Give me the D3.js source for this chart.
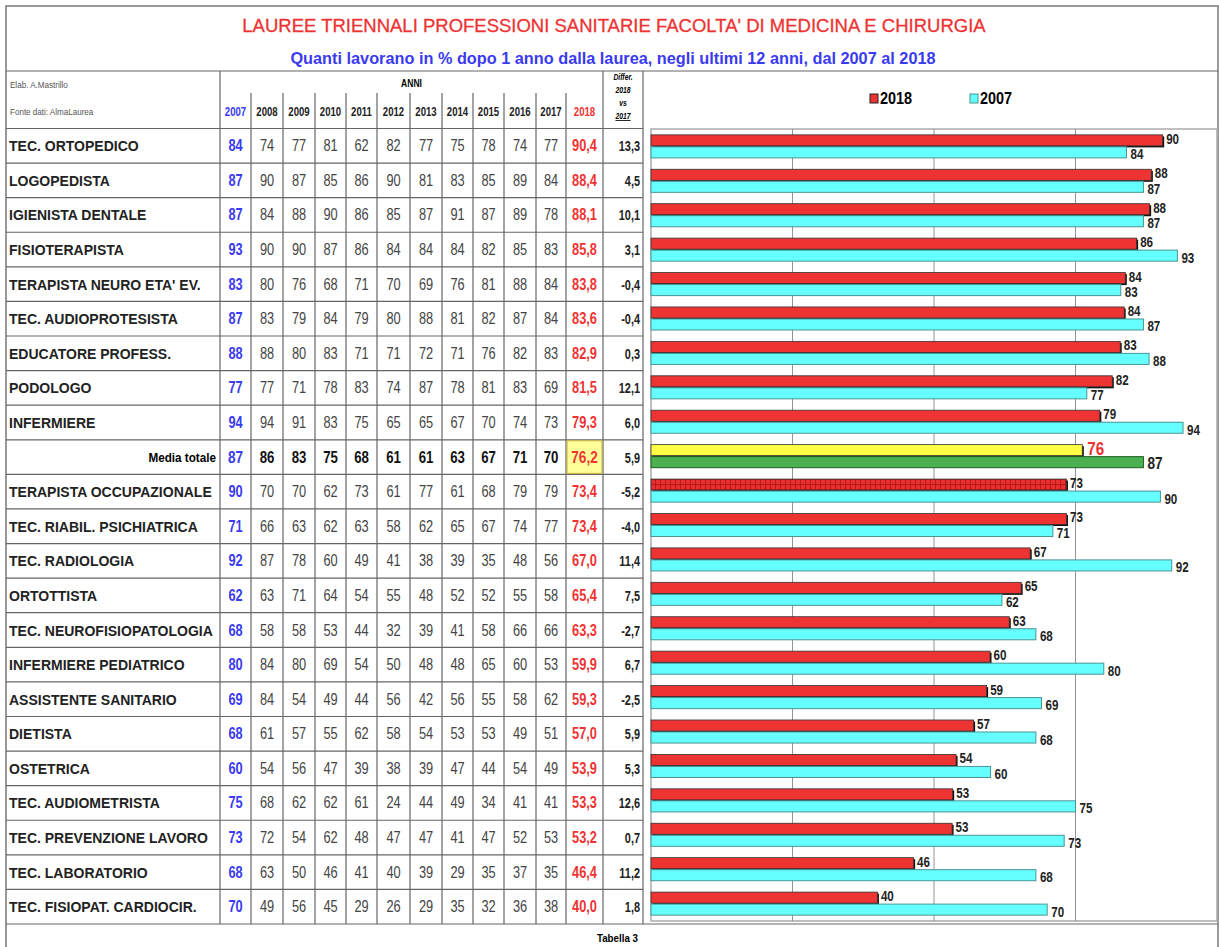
<!DOCTYPE html>
<html>
<head>
<meta charset="utf-8">
<script src="https://cdn.jsdelivr.net/npm/d3@7"></script>
<style>
  body { margin: 0; background: #fff; }
  svg { display: block; }
</style>
</head>
<body>
<svg id="chart" width="1219" height="947"></svg>
<script>
// dati: occupati a 1 anno dalla laurea (%)
const professioni = ["TEC. ORTOPEDICO", "LOGOPEDISTA", "IGIENISTA DENTALE", "FISIOTERAPISTA",
  "TERAPISTA NEURO ETA' EV.", "TEC. AUDIOPROTESISTA", "EDUCATORE PROFESS.", "PODOLOGO", "INFERMIERE",
  "Media totale", "TERAPISTA OCCUPAZIONALE", "TEC. RIABIL. PSICHIATRICA", "TEC. RADIOLOGIA", "ORTOTTISTA",
  "TEC. NEUROFISIOPATOLOGIA", "INFERMIERE PEDIATRICO", "ASSISTENTE SANITARIO", "DIETISTA", "OSTETRICA",
  "TEC. AUDIOMETRISTA", "TEC. PREVENZIONE LAVORO", "TEC. LABORATORIO", "TEC. FISIOPAT. CARDIOCIR."];

const anni = [2007, 2008, 2009, 2010, 2011, 2012, 2013, 2014, 2015, 2016, 2017, 2018];

const v2007 = [84, 87, 87, 93, 83, 87, 88, 77, 94, 87, 90, 71, 92, 62, 68, 80, 69, 68, 60, 75, 73, 68, 70];
const v2008 = [74, 90, 84, 90, 80, 83, 88, 77, 94, 86, 70, 66, 87, 63, 58, 84, 84, 61, 54, 68, 72, 63, 49];
const v2009 = [77, 87, 88, 90, 76, 79, 80, 71, 91, 83, 70, 63, 78, 71, 58, 80, 54, 57, 56, 62, 54, 50, 56];
const v2010 = [81, 85, 90, 87, 68, 84, 83, 78, 83, 75, 62, 62, 60, 64, 53, 69, 49, 55, 47, 62, 62, 46, 45];
const v2011 = [62, 86, 86, 86, 71, 79, 71, 83, 75, 68, 73, 63, 49, 54, 44, 54, 44, 62, 39, 61, 48, 41, 29];
const v2012 = [82, 90, 85, 84, 70, 80, 71, 74, 65, 61, 61, 58, 41, 55, 32, 50, 56, 58, 38, 24, 47, 40, 26];
const v2013 = [77, 81, 87, 84, 69, 88, 72, 87, 65, 61, 77, 62, 38, 48, 39, 48, 42, 54, 39, 44, 47, 39, 29];
const v2014 = [75, 83, 91, 84, 76, 81, 71, 78, 67, 63, 61, 65, 39, 52, 41, 48, 56, 53, 47, 49, 41, 29, 35];
const v2015 = [78, 85, 87, 82, 81, 82, 76, 81, 70, 67, 68, 67, 35, 52, 58, 65, 55, 53, 44, 34, 47, 35, 32];
const v2016 = [74, 89, 89, 85, 88, 87, 82, 83, 74, 71, 79, 74, 48, 55, 66, 60, 58, 49, 54, 41, 52, 37, 36];
const v2017 = [77, 84, 78, 83, 84, 84, 83, 69, 73, 70, 79, 77, 56, 58, 66, 53, 62, 51, 49, 41, 53, 35, 38];
const v2018 = [90.4, 88.4, 88.1, 85.8, 83.8, 83.6, 82.9, 81.5, 79.3, 76.2, 73.4, 73.4, 67.0, 65.4, 63.3, 59.9, 59.3, 57.0, 53.9, 53.3, 53.2, 46.4, 40.0];
const differenza = [13.3, 4.5, 10.1, 3.1, -0.4, -0.4, 0.3, 12.1, 6.0, 5.9, -5.2, -4.0, 11.4, 7.5, -2.7, 6.7, -2.5, 5.9, 5.3, 12.6, 0.7, 11.2, 1.8];

const serieIntermedie = [v2008, v2009, v2010, v2011, v2012, v2013, v2014, v2015, v2016, v2017];
const assiTick = [0, 25, 50, 75, 100];

const MEDIA = "Media totale";
const sans = "'Liberation Sans', Arial, sans-serif";
const fmt = v => d3.format(".1f")(v).replace(".", ",").replace("\u2212", "-");

const svg = d3.select("#chart");

// testo "stretto" (tipo Arial Narrow) ottenuto con scala orizzontale
function narrow(parent, x, y, size, k = 0.8) {
  return parent.append("text")
    .attr("transform", `translate(${x},${y}) scale(${k},1)`)
    .attr("font-family", sans)
    .attr("font-size", size + "px");
}

const defs = svg.append("defs");
const pat = defs.append("pattern")
  .attr("id", "quadretti")
  .attr("width", 5).attr("height", 5)
  .attr("patternUnits", "userSpaceOnUse");
pat.append("rect").attr("width", 5).attr("height", 5).attr("fill", "#e83030");
pat.append("path").attr("d", "M0,0.5H5M0.5,0V5").attr("stroke", "#b81818").attr("stroke-width", 1);

// cornice esterna
svg.append("rect")
  .attr("x", 6).attr("y", 6).attr("width", 1212).attr("height", 960)
  .attr("fill", "none").attr("stroke", "#777").attr("stroke-width", 1.5);

// titoli
svg.append("text")
  .attr("x", 614).attr("y", 32)
  .attr("text-anchor", "middle")
  .attr("font-family", sans).attr("font-size", "18.5px")
  .attr("stroke", "#ee3333").attr("stroke-width", 0.3)
  .attr("fill", "#ee3333")
  .text("LAUREE TRIENNALI PROFESSIONI SANITARIE FACOLTA' DI MEDICINA E CHIRURGIA");

svg.append("text")
  .attr("x", 613).attr("y", 64)
  .attr("text-anchor", "middle")
  .attr("font-family", sans).attr("font-size", "16.3px").attr("font-weight", "bold")
  .attr("fill", "#3a3af0")
  .text("Quanti lavorano in %  dopo 1 anno dalla laurea, negli ultimi 12 anni, dal 2007 al 2018");

// ---------- tabella ----------
const colEdges = [220, 251, 283, 315, 346, 377, 410, 442, 473, 504, 536, 566, 603, 643];
const headTop = 71, headMid = 93, tabTop = 128.5, tabBottom = 924;
const rowY = d3.scaleBand().domain(professioni).range([tabTop, tabBottom]);
const colCenter = i => (colEdges[i] + colEdges[i + 1]) / 2;

const grid = svg.append("g").attr("stroke", "#666").attr("stroke-width", 1.2);
grid.append("line").attr("x1", 6).attr("x2", 1218).attr("y1", headTop).attr("y2", headTop);
grid.append("line").attr("x1", 6).attr("x2", 643).attr("y1", tabTop).attr("y2", tabTop);
grid.append("line").attr("x1", 6).attr("x2", 1218).attr("y1", tabBottom).attr("y2", tabBottom);

professioni.forEach((p, i) => {
  if (i > 0) {
    grid.append("line")
      .attr("x1", 6).attr("x2", 643)
      .attr("y1", rowY(p)).attr("y2", rowY(p));
  }
});
colEdges.forEach((x, i) => {
  const top = (i === 0 || i >= colEdges.length - 2) ? headTop : headMid;
  grid.append("line").attr("x1", x).attr("x2", x).attr("y1", top).attr("y2", tabBottom);
});

// intestazione
narrow(svg, 10, 88, 9.5, 0.85).attr("fill", "#555").text("Elab. A.Mastrillo");
narrow(svg, 10, 115, 9.5, 0.85).attr("fill", "#555").text("Fonte dati: AlmaLaurea");
narrow(svg, (colEdges[0] + colEdges[12]) / 2, 87, 10, 0.85)
  .attr("text-anchor", "middle").attr("font-weight", "bold")
  .text("ANNI");

anni.forEach((a, i) => {
  narrow(svg, colCenter(i), 116, 12, 0.8)
    .attr("text-anchor", "middle").attr("font-weight", "bold")
    .attr("fill", a === 2007 ? "#3a3af0" : a === 2018 ? "#ee3333" : "#222")
    .text(a);
});
["Differ.", "2018", "vs", "2017"].forEach((t, i) => {
  narrow(svg, colCenter(12), 80 + i * 13, 8.5, 0.8)
    .attr("text-anchor", "middle")
    .attr("font-weight", "bold").attr("font-style", "italic")
    .attr("text-decoration", i === 3 ? "underline" : null)
    .text(t);
});

// righe
professioni.forEach((p, i) => {
  const isMedia = p === MEDIA;
  const cy = rowY(p) + rowY.bandwidth() / 2 + 5.5;
  const row = svg.append("g");

  if (isMedia) {
    row.append("rect")
      .attr("x", colEdges[11] + 1).attr("y", rowY(p) + 1)
      .attr("width", colEdges[12] - colEdges[11] - 2).attr("height", rowY.bandwidth() - 2)
      .attr("fill", "#ffff99").attr("stroke", "#c8b040");
    narrow(row, 216, cy - 0.5, 13, 0.9)
      .attr("text-anchor", "end").attr("font-weight", "bold")
      .text(p);
  } else {
    row.append("text")
      .attr("x", 9).attr("y", cy)
      .attr("font-family", sans).attr("font-size", "14px").attr("font-weight", "bold")
      .attr("fill", "#222")
      .text(p);
  }

  narrow(row, colCenter(0), cy, isMedia ? 17 : 16)
    .attr("text-anchor", "middle").attr("font-weight", "bold")
    .attr("fill", "#3a3af0")
    .text(v2007[i]);

  serieIntermedie.forEach((s, j) => {
    narrow(row, colCenter(j + 1), cy, isMedia ? 16.5 : 16)
      .attr("text-anchor", "middle")
      .attr("font-weight", isMedia ? "bold" : "normal")
      .attr("fill", isMedia ? "#111" : "#444")
      .text(s[i]);
  });

  narrow(row, colCenter(11), cy, isMedia ? 17 : 16)
    .attr("text-anchor", "middle").attr("font-weight", "bold")
    .attr("fill", "#ee3333")
    .text(fmt(v2018[i]));

  narrow(row, 640, cy, 14, 0.78)
    .attr("text-anchor", "end").attr("font-weight", "bold")
    .attr("fill", "#222")
    .text(fmt(differenza[i]));
});

narrow(svg, 638, 942, 11.5, 0.85)
  .attr("text-anchor", "end").attr("font-weight", "bold")
  .text("Tabella 3");

// ---------- grafico a barre ----------
const x = d3.scaleLinear().domain([0, 100]).range([651, 1217]);
const y = d3.scaleBand().domain(professioni).range([129, 921])
  .paddingInner(0.33).paddingOuter(0.17);
const ySub = d3.scaleBand().domain(["2018", "2007"]).range([0, y.bandwidth()]).paddingInner(0.08);

const plot = svg.append("g");
plot.append("rect")
  .attr("x", x(0)).attr("y", 129)
  .attr("width", x(100) - x(0)).attr("height", 921 - 129)
  .attr("fill", "#fff").attr("stroke", "#aaa").attr("stroke-width", 1.5);

plot.selectAll("line.griglia")
  .data(assiTick.slice(1, -1))
  .join("line")
  .attr("class", "griglia")
  .attr("x1", d => x(d)).attr("x2", d => x(d))
  .attr("y1", 129).attr("y2", 921)
  .attr("stroke", "#888").attr("stroke-width", 0.9);

professioni.forEach((p, i) => {
  const isMedia = p === MEDIA;
  const g = plot.append("g").attr("transform", `translate(0,${y(p)})`);
  const h = ySub.bandwidth();

  // barra 2018
  const y18 = ySub("2018");
  g.append("rect")
    .attr("x", x(0) + 1.5).attr("y", y18 + 1.5)
    .attr("width", x(v2018[i]) - x(0)).attr("height", h)
    .attr("fill", "#111");
  g.append("rect")
    .attr("x", x(0)).attr("y", y18)
    .attr("width", x(v2018[i]) - x(0)).attr("height", h)
    .attr("fill", isMedia ? "#ffff44" : p === "TERAPISTA OCCUPAZIONALE" ? "url(#quadretti)" : "#ee3333")
    .attr("stroke", "#333").attr("stroke-width", 0.8);
  narrow(g, x(v2018[i]) + (isMedia ? 5 : 3.5), y18 + h / 2 + (isMedia ? 5 : 3.5), isMedia ? 19 : 14.5, 0.8)
    .attr("font-weight", "bold")
    .attr("fill", isMedia ? "#ee3333" : "#222")
    .text(Math.round(v2018[i]));

  // barra 2007
  const y07 = ySub("2007");
  g.append("rect")
    .attr("x", x(0)).attr("y", y07)
    .attr("width", x(v2007[i]) - x(0)).attr("height", h)
    .attr("fill", isMedia ? "#4caf50" : "#66ffff")
    .attr("stroke", isMedia ? "#1f5f22" : "#4a9494").attr("stroke-width", 1);
  narrow(g, x(v2007[i]) + 4, y07 + h / 2 + (isMedia ? 6.5 : 7), isMedia ? 17 : 14.5, 0.8)
    .attr("font-weight", "bold")
    .attr("fill", "#222")
    .text(v2007[i]);
});

// legenda
const legenda = [
  { nome: "2018", colore: "#ee3333", bordo: "#222", x: 870 },
  { nome: "2007", colore: "#66ffff", bordo: "#4a9494", x: 970 }
];
const leg = svg.append("g").selectAll("g").data(legenda).join("g")
  .attr("transform", d => `translate(${d.x},94)`);
leg.append("rect")
  .attr("width", 8).attr("height", 9)
  .attr("fill", d => d.colore).attr("stroke", d => d.bordo);
leg.append("text")
  .attr("transform", "translate(10,10) scale(0.85,1)")
  .attr("font-family", sans).attr("font-size", "17px").attr("font-weight", "bold")
  .text(d => d.nome);
</script>
</body>
</html>
